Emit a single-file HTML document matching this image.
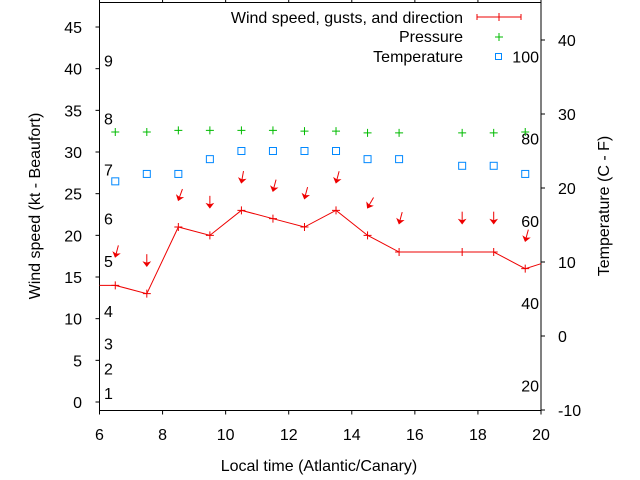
<!DOCTYPE html>
<html><head><meta charset="utf-8"><style>
html,body{margin:0;padding:0;background:#fff}
svg{display:block;font-family:"Liberation Sans",sans-serif}
</style></head><body>
<svg id="chart" width="640" height="480" viewBox="0 0 640 480" xmlns="http://www.w3.org/2000/svg"></svg>
<script>
const times=[6.5,7.5,8.5,9.5,10.5,11.5,12.5,13.5,14.5,15.5,17.5,18.5,19.5];
const lineTimes=[6,6.5,7.5,8.5,9.5,10.5,11.5,12.5,13.5,14.5,15.5,17.5,18.5,19.5,20];
const windSpeed=[14,14,13,21,20,23,22,21,23,20,18,18,18,16,16.6];
const gusts=[17.4,16.3,24.2,23.3,26.3,25.3,24.4,26.3,23.3,21.4,21.4,21.4,19.3];
const windDir=[15,0,20,0,10,15,15,15,30,15,0,0,15];
const pressure=[32.4,32.4,32.6,32.6,32.6,32.6,32.5,32.5,32.3,32.3,32.3,32.3,32.4];
const temperature=[20.9,21.9,21.9,23.9,25.0,25.0,25.0,25.0,23.9,23.9,23.0,23.0,21.9];
const xTicks=[6,8,10,12,14,16,18,20];
const yTicks=[0,5,10,15,20,25,30,35,40,45];
const y2Ticks=[-10,0,10,20,30,40];
const beaufortLabels=["1","2","3","4","5","6","7","8","9"];
const beaufortKt=[1.1,4,7,10.9,16.9,22,27.9,34,41];
const fLabels=[20,40,60,80,100];

const L=99.5,R=541,T=2.5,B=410.5;
const FS=16;
const X=v=>L+(v-6)/14*(R-L);
const Y=v=>402-v*8.333;
const Y2=v=>410-(v+10)*7.4;
const svg=document.getElementById('chart');
const NS='http://www.w3.org/2000/svg';
function mk(tag,attrs,parent){const e=document.createElementNS(NS,tag);for(const k in attrs)e.setAttribute(k,attrs[k]);(parent||svg).appendChild(e);return e;}
function txt(x,y,s,anchor,parent,extra){const e=mk('text',Object.assign({x:x,y:y,'font-size':FS,'text-anchor':anchor||'middle',fill:'#000'},extra||{}),parent);e.textContent=s;return e;}

const frame=mk('rect',{x:L,y:T,width:R-L,height:B-T,fill:'none',stroke:'#000','stroke-width':1});



const gx=mk('g',{});


xTicks.forEach(v=>{mk('line',{x1:X(v),x2:X(v),y1:B,y2:B+4,stroke:'#000'},gx);mk('line',{x1:X(v),x2:X(v),y1:T,y2:T-4,stroke:'#000'},gx);txt(X(v),440,String(v),'middle',gx);});
const gy=mk('g',{});


yTicks.forEach(v=>{mk('line',{x1:L-4,x2:L,y1:Y(v),y2:Y(v),stroke:'#000'},gy);txt(82,Y(v)+6,String(v),'end',gy);});
const gy2=mk('g',{});


y2Ticks.forEach(v=>{mk('line',{x1:R,x2:R+4,y1:Y2(v),y2:Y2(v),stroke:'#000'},gy2);txt(558,Y2(v)+6,String(v),'start',gy2);});
const gb=mk('g',{});


beaufortLabels.forEach((s,i)=>txt(104,Y(beaufortKt[i])+6,s,'start',gb));
const gf=mk('g',{});


fLabels.forEach(f=>txt(539,Y2((f-32)*5/9)+6,String(f),'end',gf));

const xt=txt(319,471,'Local time (Atlantic/Canary)','middle');

const yt=txt(0,0,'Wind speed (kt - Beaufort)','middle',null,{transform:'translate(40,206) rotate(-90)'});

const yt2=txt(0,0,'Temperature (C - F)','middle',null,{transform:'translate(609,206) rotate(-90)'});


// wind line
const pts=lineTimes.map((t,i)=>X(t)+','+Y(windSpeed[i])).join(' ');
const wl=mk('polyline',{points:pts,fill:'none',stroke:'#e00','stroke-width':1});

lineTimes.forEach((t,i)=>{if(t>6&&t<20){const c=mk('path',{d:`M${X(t)-4},${Y(windSpeed[i])}h8M${X(t)},${Y(windSpeed[i])-4}v8`,stroke:'#e00'});
}});
// gust arrows
times.forEach((t,i)=>{const x=X(t),y=Y(gusts[i]);const len=12;
const g=mk('g',{transform:`translate(${x},${y}) rotate(${windDir[i]})`,stroke:'#e00',fill:'#e00'});

mk('line',{x1:0,y1:-len,x2:0,y2:0},g);mk('path',{d:'M0,0L-3,-4L0,-3L3,-4Z'},g);});
// pressure
times.forEach((t,i)=>{const x=X(t),y=Y(pressure[i]);const p=mk('path',{d:`M${x-4},${y}h8M${x},${y-4}v8`,stroke:'#0b0'});
});
// temperature
times.forEach((t,i)=>{const x=X(t),y=Y2(temperature[i]);const r=mk('rect',{x:x-3.5,y:y-3.5,width:7,height:7,fill:'none',stroke:'#08f'});
});

// legend
const lg=mk('g',{});

txt(463,23,'Wind speed, gusts, and direction','end',lg);
mk('path',{d:'M477,17H521M477,14v6M521,14v6M499,13v8',stroke:'#e00'},lg);
txt(463,42,'Pressure','end',lg);
mk('path',{d:'M495,37h8M499,33v8',stroke:'#0b0'},lg);
txt(463,62,'Temperature','end',lg);
mk('rect',{x:495.5,y:53.5,width:6,height:6,fill:'none',stroke:'#08f'},lg);
</script>
</body></html>
